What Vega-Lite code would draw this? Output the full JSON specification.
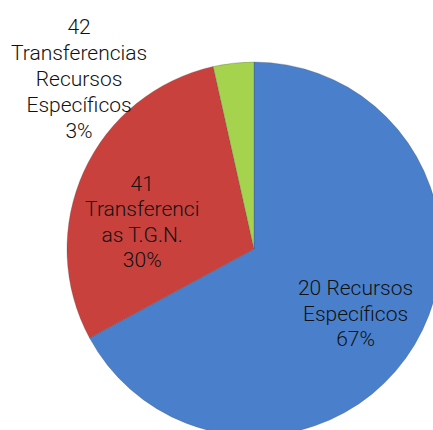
{
  "$schema": "https://vega.github.io/schema/vega-lite/v6.json",
  "width": 358,
  "height": 362,
  "autosize": "none",
  "padding": {"left": 75, "right": 0, "top": 68, "bottom": 0},
  "background": "white",
  "config": {"view": {"stroke": null}},
  "data": {
    "values": [
      {"id": "20", "value": 67.1, "label": "20 Recursos\nEspecíficos\n67%"},
      {"id": "41", "value": 29.4, "label": "41\nTransferenci\nas T.G.N.\n30%"},
      {"id": "42", "value": 3.5, "label": "42\nTransferencias\nRecursos\nEspecíficos\n3%"}
    ]
  },
  "encoding": {
    "theta": {"field": "value", "type": "quantitative", "stack": true},
    "order": {"field": "id", "type": "ordinal"}
  },
  "layer": [
    {
      "mark": {"type": "arc", "outerRadius": 187, "stroke": "#444444", "strokeWidth": 0.5, "strokeOpacity": 0.5},
      "encoding": {
        "color": {
          "field": "id",
          "type": "nominal",
          "scale": {"domain": ["20", "41", "42"], "range": ["#4a80cb", "#c9413d", "#a6d34e"]},
          "legend": null
        }
      }
    },
    {
      "mark": {"type": "text", "radius": 124, "dx": -5, "dy": -23, "font": "Roboto", "fontWeight": 300, "fontSize": 21, "lineHeight": 25.5, "lineBreak": "\n", "align": "center", "baseline": "middle", "color": "#111111"},
      "encoding": {
        "text": {"condition": {"test": "datum.id == '20'", "field": "label"}, "value": ""}
      }
    },
    {
      "mark": {"type": "text", "radius": 114, "dx": -8, "dy": -17, "font": "Roboto", "fontWeight": 300, "fontSize": 21, "lineHeight": 25.5, "lineBreak": "\n", "align": "center", "baseline": "middle", "color": "#111111"},
      "encoding": {
        "text": {"condition": {"test": "datum.id == '41'", "field": "label"}, "value": ""}
      }
    },
    {
      "mark": {"type": "text", "radius": 200, "dx": -153, "dy": -22, "font": "Roboto", "fontWeight": 300, "fontSize": 21, "lineHeight": 26, "lineBreak": "\n", "align": "center", "baseline": "middle", "color": "#111111"},
      "encoding": {
        "text": {"condition": {"test": "datum.id == '42'", "field": "label"}, "value": ""}
      }
    }
  ]
}
